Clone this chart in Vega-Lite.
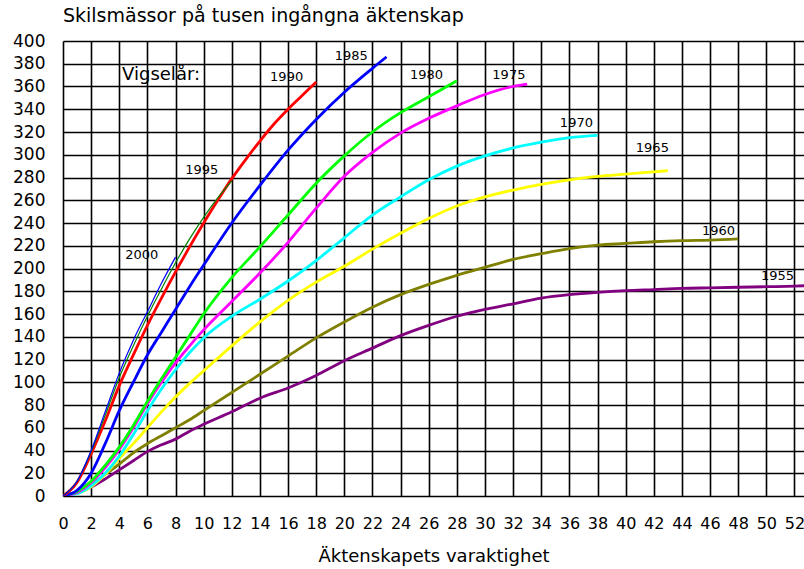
{
  "$schema": "https://vega.github.io/schema/vega-lite/v6.json",
  "width": 741,
  "height": 455,
  "autosize": {"type": "none"},
  "padding": {"left": 63, "top": 41, "right": 0, "bottom": 73},
  "background": "white",
  "title": {"text": "Skilsmässor på tusen ingångna äktenskap", "anchor": "start", "frame": "group", "font": "DejaVu Sans", "fontSize": 19, "fontWeight": "normal", "color": "black", "offset": 6},
  "config": {
    "view": {"stroke": null},
    "axis": {"grid": true, "gridColor": "black", "gridWidth": 1.6, "gridOpacity": 1, "domain": false, "ticks": false, "labelFont": "DejaVu Sans", "labelFontSize": 16, "labelColor": "black", "labelOverlap": false, "labelFlush": false, "labelBound": false, "titleFont": "DejaVu Sans", "titleFontSize": 18, "titleFontWeight": "normal", "titleColor": "black"}
  },
  "datasets": {
    "curves": [
      {"year":"1955","t":0,"v":0},{"year":"1955","t":1,"v":3},{"year":"1955","t":2,"v":8},{"year":"1955","t":3,"v":15},{"year":"1955","t":4,"v":23},{"year":"1955","t":5,"v":31},{"year":"1955","t":6,"v":39},{"year":"1955","t":7,"v":45},{"year":"1955","t":8,"v":50},{"year":"1955","t":9,"v":57},{"year":"1955","t":10,"v":63},{"year":"1955","t":12,"v":74},{"year":"1955","t":14,"v":86},{"year":"1955","t":16,"v":95},{"year":"1955","t":18,"v":106},{"year":"1955","t":20,"v":119},{"year":"1955","t":22,"v":130},{"year":"1955","t":24,"v":141},{"year":"1955","t":26,"v":150},{"year":"1955","t":28,"v":158},{"year":"1955","t":30,"v":164},{"year":"1955","t":32,"v":169},{"year":"1955","t":34,"v":174},{"year":"1955","t":36,"v":177},{"year":"1955","t":38,"v":179},{"year":"1955","t":40,"v":180.5},{"year":"1955","t":42,"v":181.5},{"year":"1955","t":44,"v":182.5},{"year":"1955","t":46,"v":183},{"year":"1955","t":48,"v":183.5},{"year":"1955","t":50,"v":184},{"year":"1955","t":52,"v":184.5},{"year":"1955","t":53,"v":185},
      {"year":"1960","t":0,"v":0},{"year":"1960","t":1,"v":3},{"year":"1960","t":2,"v":10},{"year":"1960","t":3,"v":19},{"year":"1960","t":4,"v":28},{"year":"1960","t":5,"v":38},{"year":"1960","t":6,"v":46},{"year":"1960","t":7,"v":53},{"year":"1960","t":8,"v":60},{"year":"1960","t":9,"v":67},{"year":"1960","t":10,"v":75},{"year":"1960","t":12,"v":91},{"year":"1960","t":14,"v":107},{"year":"1960","t":16,"v":123},{"year":"1960","t":18,"v":139},{"year":"1960","t":20,"v":153},{"year":"1960","t":22,"v":166},{"year":"1960","t":24,"v":177},{"year":"1960","t":26,"v":186},{"year":"1960","t":28,"v":194},{"year":"1960","t":30,"v":201},{"year":"1960","t":32,"v":208},{"year":"1960","t":34,"v":213},{"year":"1960","t":36,"v":217.5},{"year":"1960","t":38,"v":220.5},{"year":"1960","t":40,"v":222},{"year":"1960","t":42,"v":223.5},{"year":"1960","t":44,"v":224.5},{"year":"1960","t":46,"v":225},{"year":"1960","t":48,"v":226},
      {"year":"1965","t":0,"v":0},{"year":"1965","t":1,"v":2},{"year":"1965","t":2,"v":8},{"year":"1965","t":3,"v":19},{"year":"1965","t":4,"v":33},{"year":"1965","t":5,"v":46},{"year":"1965","t":6,"v":60},{"year":"1965","t":7,"v":74},{"year":"1965","t":8,"v":87},{"year":"1965","t":9,"v":99},{"year":"1965","t":10,"v":110},{"year":"1965","t":12,"v":132},{"year":"1965","t":14,"v":153},{"year":"1965","t":16,"v":172},{"year":"1965","t":18,"v":188},{"year":"1965","t":20,"v":202},{"year":"1965","t":22,"v":217},{"year":"1965","t":24,"v":231},{"year":"1965","t":26,"v":244},{"year":"1965","t":28,"v":255},{"year":"1965","t":30,"v":263},{"year":"1965","t":32,"v":269},{"year":"1965","t":34,"v":274},{"year":"1965","t":36,"v":278},{"year":"1965","t":38,"v":281},{"year":"1965","t":40,"v":283},{"year":"1965","t":42,"v":285},{"year":"1965","t":43,"v":286},
      {"year":"1970","t":0,"v":0},{"year":"1970","t":1,"v":2},{"year":"1970","t":2,"v":9},{"year":"1970","t":3,"v":20},{"year":"1970","t":4,"v":35},{"year":"1970","t":5,"v":54},{"year":"1970","t":6,"v":75},{"year":"1970","t":7,"v":94},{"year":"1970","t":8,"v":111},{"year":"1970","t":9,"v":126},{"year":"1970","t":10,"v":139},{"year":"1970","t":12,"v":158},{"year":"1970","t":14,"v":173},{"year":"1970","t":16,"v":189},{"year":"1970","t":18,"v":207},{"year":"1970","t":20,"v":227},{"year":"1970","t":22,"v":247},{"year":"1970","t":24,"v":263},{"year":"1970","t":26,"v":278},{"year":"1970","t":28,"v":290},{"year":"1970","t":30,"v":299},{"year":"1970","t":32,"v":306},{"year":"1970","t":34,"v":311},{"year":"1970","t":36,"v":315},{"year":"1970","t":38,"v":317},
      {"year":"1975","t":0,"v":0},{"year":"1975","t":1,"v":3},{"year":"1975","t":2,"v":12},{"year":"1975","t":3,"v":25},{"year":"1975","t":4,"v":41},{"year":"1975","t":5,"v":60},{"year":"1975","t":6,"v":81},{"year":"1975","t":7,"v":100},{"year":"1975","t":8,"v":117},{"year":"1975","t":9,"v":132},{"year":"1975","t":10,"v":146},{"year":"1975","t":12,"v":171},{"year":"1975","t":14,"v":196},{"year":"1975","t":16,"v":223},{"year":"1975","t":18,"v":253},{"year":"1975","t":20,"v":281},{"year":"1975","t":22,"v":302},{"year":"1975","t":24,"v":319},{"year":"1975","t":26,"v":332},{"year":"1975","t":28,"v":343},{"year":"1975","t":30,"v":353},{"year":"1975","t":32,"v":360},{"year":"1975","t":33,"v":362},
      {"year":"1980","t":0,"v":0},{"year":"1980","t":1,"v":4},{"year":"1980","t":2,"v":13},{"year":"1980","t":3,"v":27},{"year":"1980","t":4,"v":43},{"year":"1980","t":5,"v":62},{"year":"1980","t":6,"v":83},{"year":"1980","t":7,"v":103},{"year":"1980","t":8,"v":122},{"year":"1980","t":9,"v":141},{"year":"1980","t":10,"v":160},{"year":"1980","t":12,"v":192},{"year":"1980","t":14,"v":219},{"year":"1980","t":16,"v":247},{"year":"1980","t":18,"v":275},{"year":"1980","t":20,"v":299},{"year":"1980","t":22,"v":320},{"year":"1980","t":24,"v":337},{"year":"1980","t":26,"v":351},{"year":"1980","t":28,"v":365},
      {"year":"1985","t":0,"v":0},{"year":"1985","t":1,"v":5},{"year":"1985","t":2,"v":20},{"year":"1985","t":3,"v":46},{"year":"1985","t":4,"v":75},{"year":"1985","t":5,"v":100},{"year":"1985","t":6,"v":124},{"year":"1985","t":7,"v":144},{"year":"1985","t":8,"v":164},{"year":"1985","t":9,"v":184},{"year":"1985","t":10,"v":203},{"year":"1985","t":12,"v":240},{"year":"1985","t":14,"v":273},{"year":"1985","t":16,"v":304},{"year":"1985","t":18,"v":331},{"year":"1985","t":20,"v":355},{"year":"1985","t":22,"v":376},{"year":"1985","t":23,"v":386},
      {"year":"1990","t":0,"v":0},{"year":"1990","t":1,"v":12},{"year":"1990","t":2,"v":37},{"year":"1990","t":3,"v":66},{"year":"1990","t":4,"v":97},{"year":"1990","t":5,"v":124},{"year":"1990","t":6,"v":150},{"year":"1990","t":7,"v":174},{"year":"1990","t":8,"v":197},{"year":"1990","t":9,"v":219},{"year":"1990","t":10,"v":240},{"year":"1990","t":11,"v":260},{"year":"1990","t":12,"v":279},{"year":"1990","t":13,"v":296},{"year":"1990","t":14,"v":312},{"year":"1990","t":15,"v":327},{"year":"1990","t":16,"v":340},{"year":"1990","t":17,"v":352},{"year":"1990","t":18,"v":364},
      {"year":"1995","t":0,"v":0},{"year":"1995","t":1,"v":13},{"year":"1995","t":2,"v":39},{"year":"1995","t":3,"v":71},{"year":"1995","t":4,"v":104},{"year":"1995","t":5,"v":132},{"year":"1995","t":6,"v":158},{"year":"1995","t":7,"v":182},{"year":"1995","t":8,"v":205},{"year":"1995","t":9,"v":226},{"year":"1995","t":10,"v":245},{"year":"1995","t":11,"v":262},{"year":"1995","t":12,"v":277},
      {"year":"2000","t":0,"v":0},{"year":"2000","t":1,"v":13},{"year":"2000","t":2,"v":40},{"year":"2000","t":3,"v":74},{"year":"2000","t":4,"v":108},{"year":"2000","t":5,"v":137},{"year":"2000","t":6,"v":162},{"year":"2000","t":7,"v":187},{"year":"2000","t":8,"v":210}
    ],
    "labels": [
      {"label":"1990","t":15.9,"v":368},{"label":"1985","t":20.5,"v":387},{"label":"1980","t":25.85,"v":370},{"label":"1975","t":31.7,"v":370},{"label":"1995","t":9.86,"v":286.6},{"label":"2000","t":5.6,"v":212},{"label":"1970","t":36.5,"v":328},{"label":"1965","t":41.9,"v":305.7},{"label":"1960","t":46.6,"v":233},{"label":"1955","t":50.8,"v":193.4}
    ],
    "heading": [{"label":"Vigselår:","t":4.2,"v":370}]
  },
  "encoding": {
    "x": {"field": "t", "type": "quantitative", "scale": {"domain": [0, 52.68], "nice": false, "zero": false}, "axis": {"values": [0,2,4,6,8,10,12,14,16,18,20,22,24,26,28,30,32,34,36,38,40,42,44,46,48,50,52], "title": "Äktenskapets varaktighet", "labelPadding": 19, "titlePadding": 16}},
    "y": {"field": "v", "type": "quantitative", "scale": {"domain": [0, 400], "nice": false}, "axis": {"values": [0,20,40,60,80,100,120,140,160,180,200,220,240,260,280,300,320,340,360,380,400], "title": null, "labelPadding": 18, "labelBaseline": "middle", "labelFontSize": 17}}
  },
  "layer": [
    {
      "data": {"name": "curves"},
      "transform": [{"filter": "datum.year < '1995'"}],
      "mark": {"type": "line", "interpolate": "monotone", "strokeWidth": 2.8, "clip": true},
      "encoding": {
        "color": {"field": "year", "type": "nominal", "legend": null, "scale": {"domain": ["1955","1960","1965","1970","1975","1980","1985","1990","1995","2000"], "range": ["#800080","#808000","#ffff00","#00ffff","#ff00ff","#00ff00","#0000ff","#ff0000","#008000","#0000ff"]}}
      }
    },
    {
      "data": {"name": "curves"},
      "transform": [{"filter": "datum.year >= '1995'"}],
      "mark": {"type": "line", "interpolate": "monotone", "strokeWidth": 1.2, "clip": true},
      "encoding": {
        "color": {"field": "year", "type": "nominal", "legend": null}
      }
    },
    {
      "data": {"name": "labels"},
      "mark": {"type": "text", "font": "DejaVu Sans", "fontSize": 13, "color": "black", "align": "center", "baseline": "middle"},
      "encoding": {"text": {"field": "label"}}
    },
    {
      "data": {"name": "heading"},
      "mark": {"type": "text", "font": "DejaVu Sans", "fontSize": 18, "color": "black", "align": "left", "baseline": "middle"},
      "encoding": {"text": {"field": "label"}}
    }
  ]
}
